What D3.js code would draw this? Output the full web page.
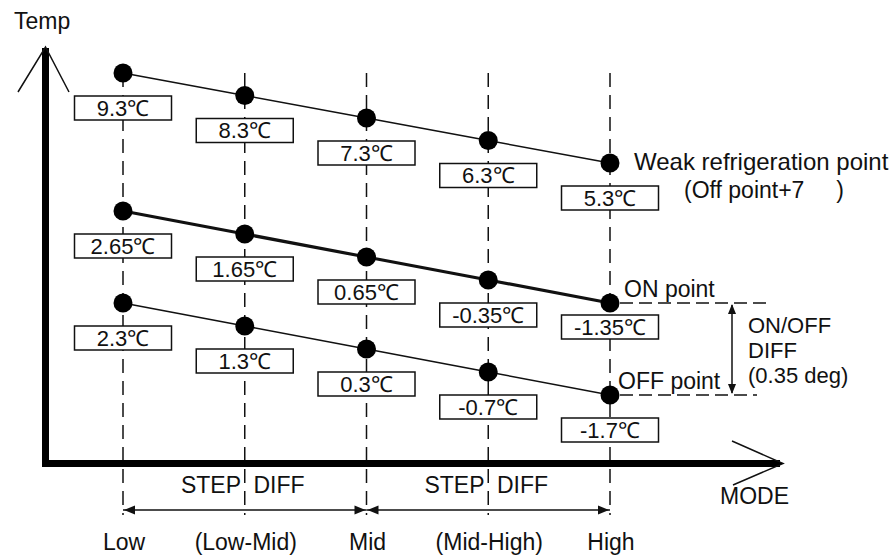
<!DOCTYPE html>
<html>
<head>
<meta charset="utf-8">
<script src="https://cdn.jsdelivr.net/npm/d3@7"></script>
<style>
  body { margin: 0; background: #fff; }
  text { font-family: "Liberation Sans", Arial, sans-serif; fill: #111; white-space: pre; }
</style>
</head>
<body>
<div id="chart"></div>
<script>
// modes along the x axis
const modes = ['Low', '(Low-Mid)', 'Mid', '(Mid-High)', 'High'];
// set temperatures (deg C) per mode
const weakTemps = [9.3, 8.3, 7.3, 6.3, 5.3];
const onTemps = [2.65, 1.65, 0.65, -0.35, -1.35];
const offTemps = [2.3, 1.3, 0.3, -0.7, -1.7];
// step-diff spans (from mode, to mode)
const stepSpans = [['Low', 'Mid'], ['Mid', 'High']];
// ON/OFF diff note lines
const diffNote = ['ON/OFF', 'DIFF', '(0.35 deg)'];

const W = 895, H = 559;
const axisX = 45.5, axisY = 463.5;
const fs = 23;

const svg = d3.select('#chart').append('svg')
  .attr('width', W).attr('height', H);

const x = d3.scalePoint().domain(modes).range([123, 610]);

// schematic chart: each curve gets its own vertical band
const series = [
  { name: 'weak', temps: weakTemps, y: d3.scaleLinear().domain([9.3, 5.3]).range([73, 163]), width: 1.5 },
  { name: 'on', temps: onTemps, y: d3.scaleLinear().domain([2.65, -1.35]).range([211, 303]), width: 3.2 },
  { name: 'off', temps: offTemps, y: d3.scaleLinear().domain([2.3, -1.7]).range([303, 395]), width: 1.5 }
];

const fmt = t => `${t}℃`;

function arrowHead(g, tipX, tipY, dir, len = 11, half = 4.5) {
  // dir: 'left' | 'right' | 'up' | 'down'
  let pts;
  if (dir === 'left') pts = [[tipX, tipY], [tipX + len, tipY - half], [tipX + len, tipY + half]];
  if (dir === 'right') pts = [[tipX, tipY], [tipX - len, tipY - half], [tipX - len, tipY + half]];
  if (dir === 'up') pts = [[tipX, tipY], [tipX - half, tipY + len], [tipX + half, tipY + len]];
  if (dir === 'down') pts = [[tipX, tipY], [tipX - half, tipY - len], [tipX + half, tipY - len]];
  g.append('path').attr('d', d3.line()(pts) + 'Z').attr('fill', '#111');
}

// vertical dashed mode lines
svg.selectAll('.mode-line')
  .data(modes)
  .enter().append('line')
  .attr('class', 'mode-line')
  .attr('x1', d => x(d)).attr('x2', d => x(d))
  .attr('y1', 73).attr('y2', 515)
  .attr('stroke', '#111')
  .attr('stroke-width', 1.5)
  .attr('stroke-dasharray', '14 8');

// axes
const axes = svg.append('g');
axes.append('line')
  .attr('x1', axisX).attr('x2', axisX).attr('y1', 48).attr('y2', axisY + 3.5)
  .attr('stroke', '#000').attr('stroke-width', 7);
axes.append('path')
  .attr('d', d3.line()([[18, 92], [axisX, 47], [69, 92]]))
  .attr('fill', 'none').attr('stroke', '#111').attr('stroke-width', 1.5);
axes.append('line')
  .attr('x1', axisX - 3.5).attr('x2', 780).attr('y1', axisY).attr('y2', axisY)
  .attr('stroke', '#000').attr('stroke-width', 7);
axes.append('path')
  .attr('d', d3.line()([[732, 441], [783, axisY], [733, 485]]))
  .attr('fill', 'none').attr('stroke', '#111').attr('stroke-width', 1.5);
axes.append('path')
  .attr('d', d3.line()([[772, axisY - 3.5], [783, axisY], [772, axisY + 3.5]]) + 'Z')
  .attr('fill', '#000');

axes.append('text').attr('x', 14).attr('y', 29).attr('font-size', fs).text('Temp');
axes.append('text').attr('x', 720).attr('y', 504).attr('font-size', fs).text('MODE');

// mode labels
svg.selectAll('.mode-label')
  .data(modes)
  .enter().append('text')
  .attr('class', 'mode-label')
  .attr('x', d => x(d) + 1)
  .attr('y', 550)
  .attr('text-anchor', 'middle')
  .attr('font-size', fs)
  .text(d => d);

// step diff arrows
const steps = svg.append('g');
stepSpans.forEach(([a, b]) => {
  const x0 = x(a), x1 = x(b), yA = 510;
  steps.append('line')
    .attr('x1', x0).attr('x2', x1).attr('y1', yA).attr('y2', yA)
    .attr('stroke', '#111').attr('stroke-width', 1.5);
  arrowHead(steps, x0 + 1, yA, 'left');
  arrowHead(steps, x1 - 1, yA, 'right');
  steps.append('text')
    .attr('x', (x0 + x1) / 2 - 2).attr('y', 493)
    .attr('text-anchor', 'middle').attr('font-size', fs)
    .text('STEP  DIFF');
});

// series lines, boxes, dots
const boxW = 97, boxH = 24;
series.forEach(s => {
  const pts = s.temps.map((t, i) => ({ mode: modes[i], t, cx: x(modes[i]), cy: s.y(t) }));
  const g = svg.append('g').attr('class', `series-${s.name}`);

  g.append('path')
    .datum(pts)
    .attr('d', d3.line().x(d => d.cx).y(d => d.cy))
    .attr('fill', 'none').attr('stroke', '#111').attr('stroke-width', s.width);

  // label box sits under the dot; the ON label at High is tucked closer
  const off = d => (s.name === 'on' && d.mode === 'High') ? 12 : 23;

  const lab = g.selectAll('.lab').data(pts).enter().append('g').attr('class', 'lab');
  lab.append('rect')
    .attr('x', d => d.cx - boxW / 2).attr('y', d => d.cy + off(d))
    .attr('width', boxW).attr('height', boxH)
    .attr('fill', '#fff').attr('stroke', '#111').attr('stroke-width', 1.5);
  lab.append('text')
    .attr('x', d => d.cx).attr('y', d => d.cy + off(d) + 19.5)
    .attr('text-anchor', 'middle').attr('font-size', 22)
    .text(d => fmt(d.t));

  g.selectAll('.dot').data(pts).enter().append('circle')
    .attr('class', 'dot')
    .attr('cx', d => d.cx).attr('cy', d => d.cy)
    .attr('r', 9.5).attr('fill', '#000');
});

// right-hand annotations
const ann = svg.append('g');
const hi = x('High');
const yOn = series[1].y(onTemps[4]);
const yOff = series[2].y(offTemps[4]);
const yWeak = series[0].y(weakTemps[4]);

ann.append('text').attr('x', 634).attr('y', yWeak + 7).attr('font-size', 24).text('Weak refrigeration point');
ann.append('text').attr('x', 684).attr('y', yWeak + 35).attr('font-size', fs).text('(Off point+7     )');

ann.append('line').attr('x1', hi + 10).attr('x2', 768).attr('y1', yOn).attr('y2', yOn)
  .attr('stroke', '#111').attr('stroke-width', 1.5).attr('stroke-dasharray', '13 6');
ann.append('line').attr('x1', hi + 10).attr('x2', 757).attr('y1', yOff).attr('y2', yOff)
  .attr('stroke', '#111').attr('stroke-width', 1.5).attr('stroke-dasharray', '13 6');
ann.append('text').attr('x', 624).attr('y', yOn - 6).attr('font-size', fs).text('ON point');
ann.append('text').attr('x', 618).attr('y', yOff - 6).attr('font-size', fs).text('OFF point');

ann.append('line').attr('x1', 732).attr('x2', 732).attr('y1', yOn + 2).attr('y2', yOff - 2)
  .attr('stroke', '#111').attr('stroke-width', 1.5);
arrowHead(ann, 732, yOn + 1, 'up', 10, 4);
arrowHead(ann, 732, yOff - 1, 'down', 10, 4);

ann.selectAll('.diff-note')
  .data(diffNote)
  .enter().append('text')
  .attr('class', 'diff-note')
  .attr('x', 748)
  .attr('y', (d, i) => 333 + i * 25)
  .attr('font-size', 22)
  .text(d => d);
</script>
</body>
</html>
